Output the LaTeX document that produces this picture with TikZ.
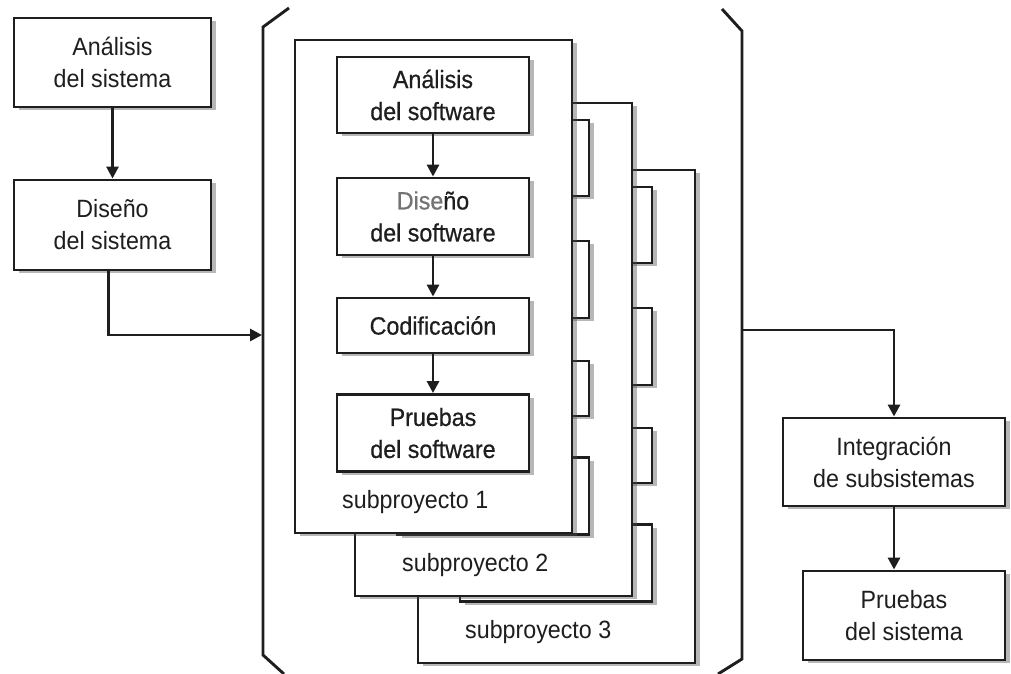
\documentclass[tikz,border=0pt]{standalone}
\usepackage{fontspec}
\setmainfont{Liberation Sans}[FakeStretch=0.93]
\newfontfamily\semibfont{Liberation Sans}[FakeStretch=0.93,FakeBold=0.6]
\usetikzlibrary{arrows.meta,shadows}
\definecolor{ink}{HTML}{1E1E1E}
\tikzset{
  box/.style={draw=ink,line width=2.9pt,fill=white,align=center,inner sep=0pt,
    text=ink,font=\fontsize{25}{32}\selectfont,
    drop shadow={shadow xshift=5pt,shadow yshift=-3pt,opacity=.4,fill=black!70}},
  subbox/.style={box,minimum width=277pt,minimum height=493pt},
  inbox/.style={box,minimum width=192pt,font=\semibfont\fontsize{25}{32}\selectfont},
  arr/.style={draw=ink,line width=2.9pt,-{Triangle[length=12pt,width=12pt]}},
  conn/.style={draw=ink,line width=2.9pt},
  lab/.style={anchor=base west,inner sep=0pt,text=ink,font=\fontsize{25}{32}\selectfont},
  % front sub-project: all boxes with their texts
  subfront/.pic={
    \node[subbox] (-box) at (433.5,286.5) {};
    \node[inbox,minimum height=76pt] (-a) at (433,95) {Análisis\\del software};
    \node[inbox,minimum height=77pt] (-d) at (433,216.5) {{\color{black!55}Dise}ño\\del software};
    \node[inbox,minimum height=55pt] (-c) at (433,325.5) {Codificación};
    \node[inbox,minimum height=77pt] (-p) at (433,433) {Pruebas\\del software};
    \draw[arr] (-a) -- (-d);
    \draw[arr] (-d) -- (-c);
    \draw[arr] (-c) -- (-p);
    \node[lab] (-lab) at (342,508) {subproyecto #1};
  },
  % back sub-project: only the edges of its boxes show
  subback/.pic={
    \node[subbox] (-box) at (433.5,286.5) {};
    \node[inbox,minimum height=76pt] (-a) at (433,95) {};
    \node[inbox,minimum height=77pt] (-d) at (433,216.5) {};
    \node[inbox,minimum height=55pt] (-c) at (433,325.5) {};
    \node[inbox,minimum height=77pt] (-p) at (433,433) {};
    \node[lab] (-lab) at (342,508) {subproyecto #1};
  }
}
\begin{document}
\begin{tikzpicture}[x=1pt,y=-1pt]
\useasboundingbox (0,0) rectangle (1011,674);
\fill[white] (0,0) rectangle (1011,674);
% left column
\node[box,minimum width=197pt,minimum height=89pt] (as) at (112.5,62.5) {Análisis\\del sistema};
\node[box,minimum width=197pt,minimum height=90pt] (ds) at (112.5,225) {Diseño\\del sistema};
\draw[arr] (as) -- (ds);
% brackets
\coordinate (bl1) at (289,8);
\coordinate (bl2) at (263,27);
\coordinate (bl3) at (263,655);
\coordinate (bl4) at (284,674);
\coordinate (blin) at (262,335);
\draw[conn,line join=miter] (bl1) -- (bl2) -- (bl3) -- (bl4);
\coordinate (br1) at (722,9);
\coordinate (br2) at (742,31);
\coordinate (br3) at (742,659);
\coordinate (br4) at (718,674);
\coordinate (brout) at (742,330);
\draw[conn,line join=miter] (br1) -- (br2) -- (br3) -- (br4);
\draw[arr] ([xshift=-4pt]ds.south) |- (blin);
% subprojects
\pic (s3) at (123,130) {subback=3};
\pic (s2) at (60,63) {subback=2};
\pic (s1) at (0,0) {subfront=1};
% right column
\node[box,minimum width=222pt,minimum height=88pt] (int) at (894,462) {Integración\\de subsistemas};
\node[box,minimum width=202pt,minimum height=89pt] (ps) at (904,615.5) {Pruebas\\del sistema};
\draw[arr] (brout) -| (int.north);
\draw[arr] (int.south) -- (int.south |- ps.north);
\end{tikzpicture}
\end{document}
